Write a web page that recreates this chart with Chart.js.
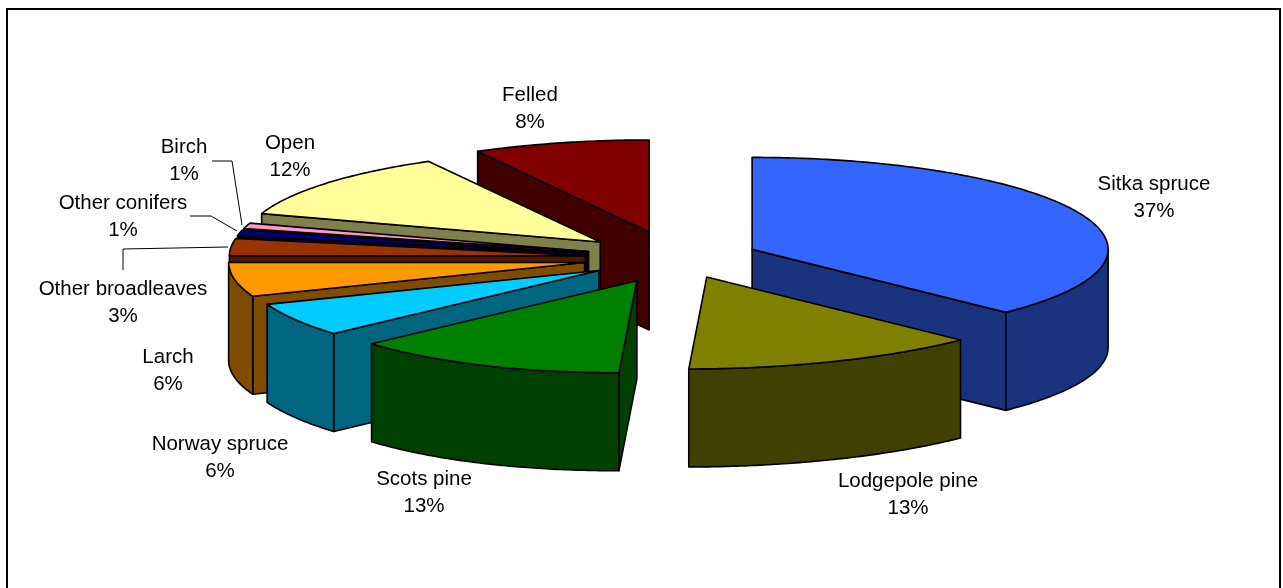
<!DOCTYPE html>
<html>
<head>
<meta charset="utf-8">
<title>Woodland cover by type</title>
<script src="https://cdn.jsdelivr.net/npm/chart.js@4/dist/chart.umd.min.js"></script>
<style>
  html, body { margin: 0; padding: 0; background: #fff; overflow: hidden; }
  canvas { display: block; }
</style>
</head>
<body>
<canvas id="myChart" width="1283" height="588"></canvas>
<script>
const categories = ["Sitka spruce", "Lodgepole pine", "Scots pine", "Norway spruce", "Larch",
  "Other broadleaves", "Other conifers", "Birch", "Open", "Felled"];
const shares = [37, 13, 13, 6, 6, 3, 1, 1, 12, 8];

const topColors = ["#3366ff", "#808000", "#008000", "#00ccff", "#ff9900",
  "#993300", "#000080", "#ff99cc", "#ffff99", "#800000"];
const sideColors = ["#19337f", "#404000", "#004000", "#00667f", "#7f4c00",
  "#4c1900", "#000040", "#7f4c66", "#80804c", "#400000"];
const explode = [84, 80, 96, 90, 92, 90, 90, 90, 97, 104];

// label centres, one per category
const labelX = [1154, 908, 424, 220, 168, 123, 123, 184, 290, 530];
const labelY = [184, 481, 479, 444, 357, 289, 203, 147, 143, 95];

// leader lines for the thin slices
const leaders = [
  [[212, 161], [232, 161], [242, 225]],
  [[190, 216], [211, 216], [237, 231]],
  [[123, 270], [123, 249], [228, 247]]
];

const squash = 92 / 356;
const depth = 98;
const frontLean = 18;

function sliceGeometry(arc) {
  const mid = (arc.startAngle + arc.endAngle) / 2;
  const off = arc.options.offset;
  return {
    x: arc.x + Math.cos(mid) * off,
    y: arc.y + Math.sin(mid) * off * squash,
    r: arc.outerRadius,
    a0: arc.startAngle,
    a1: arc.endAngle,
    mid: mid
  };
}

// point on the tilted rim, the near side of the pie leans a little to the left
function rim(g, a) {
  const s = Math.sin(a);
  return [g.x + Math.cos(a) * g.r - frontLean * Math.pow(Math.max(s, 0), 3), g.y + s * g.r * squash];
}

function traceRim(ctx, g, from, to, drop) {
  const steps = Math.max(2, Math.ceil(Math.abs(to - from) * 90));
  for (let i = 0; i <= steps; i++) {
    const p = rim(g, from + (to - from) * i / steps);
    ctx.lineTo(p[0], p[1] + drop);
  }
}

function paint(ctx, fill) {
  ctx.fillStyle = fill;
  ctx.fill();
  ctx.stroke();
}

function radialWall(ctx, g, a, fill) {
  const p = rim(g, a);
  ctx.beginPath();
  ctx.moveTo(g.x, g.y);
  ctx.lineTo(p[0], p[1]);
  ctx.lineTo(p[0], p[1] + depth);
  ctx.lineTo(g.x, g.y + depth);
  ctx.closePath();
  paint(ctx, fill);
}

const pie3d = {
  id: "pie3d",
  beforeDatasetsDraw(chart) {
    const ctx = chart.ctx;
    const arcs = chart.getDatasetMeta(0).data;
    // back slices first so the front ones cover them
    const order = arcs.map((arc, i) => i).sort((a, b) =>
      Math.sin(sliceGeometry(arcs[a]).mid) - Math.sin(sliceGeometry(arcs[b]).mid));

    ctx.save();
    ctx.strokeStyle = "#000";
    ctx.lineWidth = 1.6;
    ctx.lineJoin = "round";
    order.forEach(i => {
      const g = sliceGeometry(arcs[i]);
      const side = sideColors[i];
      // a cut face shows only when it turns towards the viewer
      if (rim(g, g.a0)[0] < g.x - 0.5) radialWall(ctx, g, g.a0, side);
      if (rim(g, g.a1)[0] > g.x + 0.5) radialWall(ctx, g, g.a1, side);

      // outer wall, only the part that faces front
      const from = Math.max(g.a0, 0);
      const to = Math.min(g.a1, Math.PI);
      if (to > from) {
        ctx.beginPath();
        traceRim(ctx, g, from, to, 0);
        traceRim(ctx, g, to, from, depth);
        ctx.closePath();
        paint(ctx, side);
      }

      ctx.beginPath();
      ctx.moveTo(g.x, g.y);
      traceRim(ctx, g, g.a0, g.a1, 0);
      ctx.closePath();
      paint(ctx, topColors[i]);
    });
    ctx.restore();
    return false;
  },
  afterDraw(chart) {
    const ctx = chart.ctx;
    ctx.save();
    // chart frame, runs off the bottom of the page
    ctx.strokeStyle = "#000";
    ctx.lineWidth = 2;
    ctx.strokeRect(7, 9, 1273, 600);

    ctx.lineWidth = 1;
    leaders.forEach(pts => {
      ctx.beginPath();
      pts.forEach((p, i) => i ? ctx.lineTo(p[0], p[1]) : ctx.moveTo(p[0], p[1]));
      ctx.stroke();
    });

    ctx.fillStyle = "#000";
    ctx.font = '20.5px "Liberation Sans"';
    ctx.textAlign = "center";
    ctx.textBaseline = "middle";
    categories.forEach((name, i) => {
      ctx.fillText(name, labelX[i], labelY[i]);
      ctx.fillText(shares[i] + "%", labelX[i], labelY[i] + 27.5);
    });
    ctx.restore();
  }
};

const myChart = new Chart(document.getElementById("myChart").getContext("2d"), {
  type: "pie",
  data: {
    labels: categories,
    datasets: [{
      data: shares,
      backgroundColor: topColors,
      borderWidth: 0,
      offset: explode,
      radius: 356
    }]
  },
  options: {
    responsive: false,
    animation: false,
    layout: { padding: { left: 67, bottom: 72 } },
    plugins: { legend: { display: false }, tooltip: { enabled: false } }
  },
  plugins: [pie3d]
});
</script>
</body>
</html>
